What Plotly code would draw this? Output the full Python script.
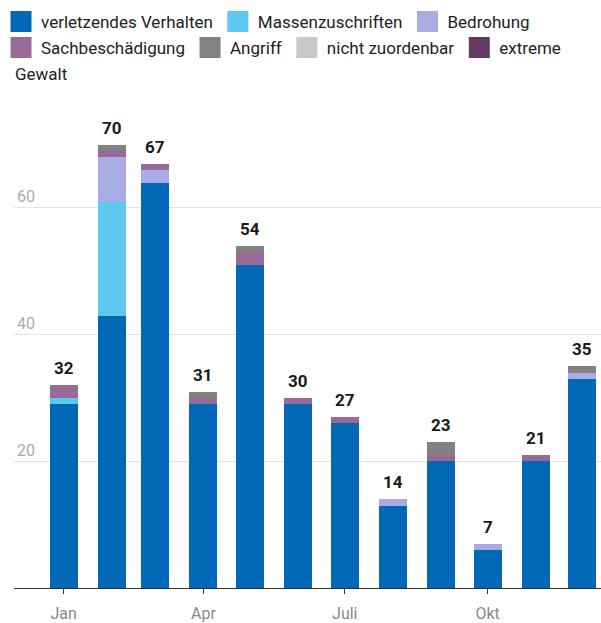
import plotly.graph_objects as go

months = ["2021-01-01", "2021-02-01", "2021-03-01", "2021-04-01", "2021-05-01", "2021-06-01",
          "2021-07-01", "2021-08-01", "2021-09-01", "2021-10-01", "2021-11-01", "2021-12-01"]

verletzendes_verhalten = [29, 43, 64, 29, 51, 29, 26, 13, 20, 6, 20, 33]
massenzuschriften      = [1, 18, 0, 0, 0, 0, 0, 0, 0, 0, 0, 0]
bedrohung              = [0, 7, 2, 0, 0, 0, 0, 1, 0, 1, 0, 1]
sachbeschaedigung      = [2, 1, 1, 1, 2, 1, 1, 0, 1, 0, 1, 0]
angriff                = [0, 1, 0, 1, 1, 0, 0, 0, 2, 0, 0, 1]
nicht_zuordenbar       = [0, 0, 0, 0, 0, 0, 0, 0, 0, 0, 0, 0]
extreme_gewalt         = [0, 0, 0, 0, 0, 0, 0, 0, 0, 0, 0, 0]
totals                 = [32, 70, 67, 31, 54, 30, 27, 14, 23, 7, 21, 35]

tick_vals = ["2021-01-01", "2021-04-01", "2021-07-01", "2021-10-01"]
tick_text = ["Jan", "Apr", "Juli", "Okt"]

# (legend label, values, colour, legend row)
series = [
    ("verletzendes Verhalten", verletzendes_verhalten, "#0068B4", "legend"),
    ("Massenzuschriften", massenzuschriften, "#5DC8F0", "legend"),
    ("Bedrohung", bedrohung, "#AAACE4", "legend"),
    ("Sachbeschädigung", sachbeschaedigung, "#996A98", "legend2"),
    ("Angriff", angriff, "#828282", "legend2"),
    ("nicht zuordenbar", nicht_zuordenbar, "#C8C8C8", "legend2"),
    ("extreme", extreme_gewalt, "#633A62", "legend2"),
]

bar_width = 18 * 24 * 3600 * 1000
LEG_FONT = dict(family="Roboto", size=17, color="#222")

fig = go.Figure()
for name, vals, color, leg in series:
    fig.add_trace(go.Bar(
        x=months, y=vals, name=name, width=bar_width, showlegend=False,
        marker=dict(color=color, line=dict(width=0)),
        hoverinfo="skip", legendgroup=name,
    ))
# legend entries with large square swatches
for name, vals, color, leg in series:
    fig.add_trace(go.Scatter(
        x=[None], y=[None], mode="markers", name=name, legend=leg, legendgroup=name,
        marker=dict(symbol="square", size=16, color=color, line=dict(width=5, color=color)),
        hoverinfo="skip",
    ))

for m, t in zip(months, totals):
    fig.add_annotation(
        x=m, y=t, text=str(t), showarrow=False, yanchor="bottom", yshift=5,
        font=dict(family="Roboto", size=17, color="#1a1a1a", weight="bold"),
    )

# wrapped remainder of the last legend label ("extreme Gewalt")
fig.add_annotation(
    x=0, xref="paper", xanchor="left", y=(588 - 74) / 488, yref="paper", yanchor="middle",
    text="Gewalt", showarrow=False, font=LEG_FONT, xshift=-1,
)

leg_common = dict(orientation="h", xref="container", x=1 / 601, xanchor="left",
                  yref="container", yanchor="middle", font=LEG_FONT,
                  traceorder="normal", bgcolor="rgba(0,0,0,0)", itemclick=False,
                  itemdoubleclick=False)

fig.update_layout(
    width=601, height=623,
    barmode="stack",
    plot_bgcolor="white", paper_bgcolor="white",
    font=dict(family="Roboto", size=16, color="#222"),
    margin=dict(l=14, r=0, t=100, b=35),
    legend=dict(**leg_common, y=1 - 22 / 623),
    legend2=dict(**leg_common, y=1 - 48 / 623),
    xaxis=dict(
        type="date",
        range=["2020-11-30", "2021-12-13"],
        tickvals=tick_vals, ticktext=tick_text,
        showgrid=False,
        showline=True, linecolor="#333", linewidth=1,
        ticks="outside", ticklen=5, tickcolor="#333",
        tickfont=dict(family="Roboto", size=16, color="#888"),
        ticklabelstandoff=6,
        zeroline=False,
    ),
    yaxis=dict(
        range=[0, 77.05],
        tickvals=[20, 40, 60],
        showgrid=True, gridcolor="#e2e2e2", gridwidth=1,
        ticklabelposition="inside top",
        tickfont=dict(family="Roboto", size=16, color="#aaa"),
        showline=False, zeroline=False,
    ),
)

fig.write_html("out.html", config={"displayModeBar": False},
               post_script="document.body.style.margin='0';document.body.style.overflow='hidden';")
